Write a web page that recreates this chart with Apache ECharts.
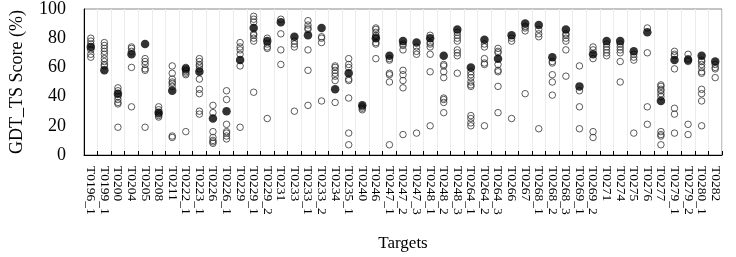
<!DOCTYPE html>
<html>
<head>
<meta charset="utf-8">
<script src="https://cdn.jsdelivr.net/npm/echarts@6/dist/echarts.min.js"></script>
<style>
  html,body{margin:0;padding:0;background:#fff;}
  #chart{width:736px;height:257px;}
</style>
</head>
<body>
<div id="chart"></div>
<script>
// targets along the x axis
var targets=['T0196_1','T0199_1','T0200','T0204','T0205','T0208','T0211','T0222_1','T0223_1','T0226',
    'T0226_1','T0229','T0229_1','T0229_2','T0231','T0233','T0233_1','T0233_2','T0234','T0235_1',
    'T0240','T0246','T0247_1','T0247_2','T0247_3','T0248_1','T0248_2','T0248_3','T0264_1','T0264_2',
    'T0264_3','T0266','T0267','T0268_1','T0268_2','T0268_3','T0269_1','T0269_2','T0271','T0274',
    'T0275','T0276','T0277','T0279_1','T0279_2','T0280_1','T0282'];

// open circles: all models per target
var modelScores=[
    [80,78,76,72,69,67],
    [77,75,73,71,69,66,64,62,61],
    [46,44,40,38,36,35,19],
    [74,73,71,60,33],
    [66,64,62,59,58,19],
    [33,31,28,27,26],
    [61,56,52,50,49,47,13,12],
    [60,58,57,56,55,16],
    [66,64,62,61,59,52,45,42,30,28],
    [34,29,16,12,10,9,8],
    [44,38,21,16,15,13,11],
    [77,74,72,69,61,19],
    [95,93,91,83,82,80,78,43],
    [80,76,74,73,25],
    [93,83,72,62],
    [78,76,74,30],
    [92,89,87,86,72,58,34],
    [81,80,77,37],
    [61,60,58,56,54,51,36],
    [66,62,60,52,51,39,15,7],
    [33,32,31],
    [87,86,84,82,81,77,76,66],
    [66,65,56,55,50,7],
    [76,75,72,58,55,51,46,14],
    [74,71,69,15],
    [82,77,76,74,69,57,20],
    [62,61,57,53,39,38,36,29],
    [84,82,80,78,72,70,68,56],
    [57,55,53,50,48,47,27,25,22,20],
    [76,74,66,63,62,20],
    [73,71,70,62,58,57,47,29],
    [80,78,25],
    [88,87,85,42],
    [86,83,81,18],
    [64,63,55,50,41],
    [83,82,80,78,72,54],
    [61,44,33,18],
    [74,72,66,16,12],
    [76,74,72,70,68],
    [76,74,72,70,64,50],
    [69,67,65,15],
    [87,70,33,21],
    [48,47,45,44,42,40,16,14,13,7],
    [71,69,68,59,32,28,15],
    [69,66,64,21,14],
    [65,64,62,60,57,56,45,42,37,20],
    [62,60,59,53]
];

// filled circles: selected model per target
var selectedScores=[74,58,42,69,76,29,44,59,57,25,30,65,87,78,91,81,82,87,45,56,
    34,80,68,78,77,80,68,86,60,79,66,82,90,89,67,86,47,69,78,78,71,84,37,65,65,68,64];

var yTicks={min:0,max:100,interval:20};

var serif='"Liberation Serif","Times New Roman",serif';

var openPoints=[];
modelScores.forEach(function(list,i){
    list.forEach(function(v){openPoints.push([i,v]);});
});
var filledPoints=selectedScores.map(function(v,i){return [i,v];});

var myChart=echarts.init(document.getElementById('chart'));
myChart.setOption({
    animation:false,
    grid:{
        left:81,
        right:14,
        top:7,
        bottom:102,
        show:true,
        borderColor:'#888',
        borderWidth:1
    },
    xAxis:{
        type:'category',
        data:targets,
        name:'Targets',
        nameLocation:'middle',
        nameGap:80,
        nameTextStyle:{fontFamily:serif,fontSize:17,color:'#000'},
        boundaryGap:true,
        axisLine:{lineStyle:{color:'#000',width:1}},
        axisTick:{show:true,inside:true,length:4,lineStyle:{color:'#000'}},
        axisLabel:{
            interval:0,
            rotate:-90,
            margin:11,
            fontFamily:serif,
            fontSize:13.5,
            color:'#000'
        },
        splitLine:{show:true,lineStyle:{color:'#ececec',width:1}}
    },
    yAxis:{
        type:'value',
        min:yTicks.min,
        max:yTicks.max,
        interval:yTicks.interval,
        name:'GDT_TS Score (%)',
        nameLocation:'middle',
        nameGap:58,
        nameTextStyle:{fontFamily:serif,fontSize:18,color:'#000'},
        axisLine:{show:true,lineStyle:{color:'#000',width:1}},
        axisTick:{show:false},
        axisLabel:{fontFamily:serif,fontSize:18,color:'#000',margin:18},
        splitLine:{show:false}
    },
    series:[
        {
            type:'scatter',
            data:openPoints,
            symbol:'circle',
            symbolSize:6.5,
            itemStyle:{color:'rgba(0,0,0,0)',borderColor:'#333',borderWidth:1},
            z:2
        },
        {
            type:'scatter',
            data:filledPoints,
            symbol:'circle',
            symbolSize:8.5,
            itemStyle:{color:'#000'},
            z:3
        }
    ]
});
</script>
</body>
</html>
